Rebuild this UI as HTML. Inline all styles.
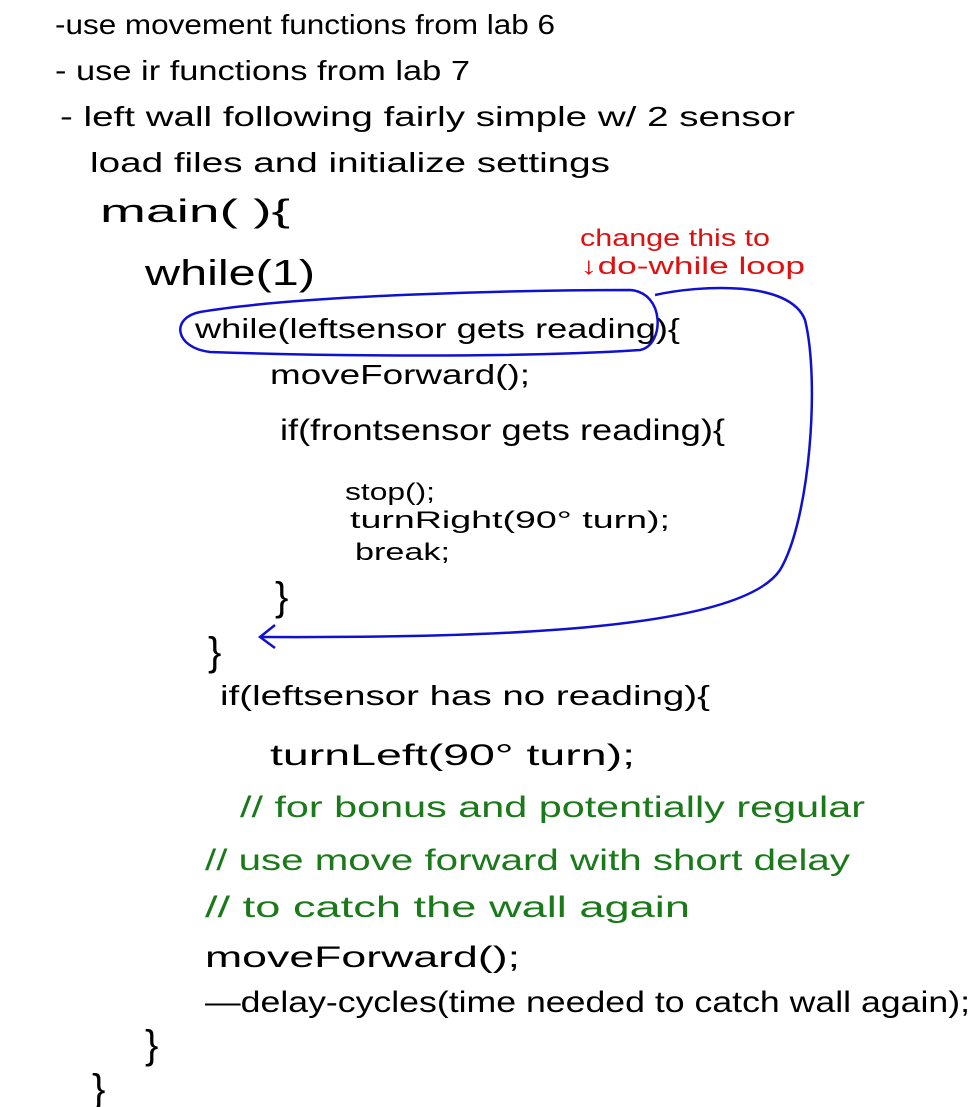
<!DOCTYPE html>
<html><head><meta charset="utf-8"><style>
html,body{margin:0;padding:0;background:#fff;width:976px;height:1107px;overflow:hidden}
svg{display:block}
text{font-family:"Liberation Sans",sans-serif;font-size:28px;fill:#000}
.g{fill:#1a7a1a}
.r{fill:#e01010;font-size:24px}
</style></head><body>
<svg width="976" height="1107" viewBox="0 0 976 1107" xmlns="http://www.w3.org/2000/svg">
<g lengthAdjust="spacingAndGlyphs">
<text x="55" y="34" textLength="500" lengthAdjust="spacingAndGlyphs">-use movement functions from lab 6</text>
<text x="55" y="80" textLength="415" lengthAdjust="spacingAndGlyphs">- use ir functions from lab 7</text>
<text x="60" y="126" textLength="735" lengthAdjust="spacingAndGlyphs">- left wall following fairly simple w/ 2 sensor</text>
<text x="90" y="172" textLength="520" lengthAdjust="spacingAndGlyphs">load files and initialize settings</text>
<text x="100" y="222" textLength="190" lengthAdjust="spacingAndGlyphs" style="font-size:32px">main( ){</text>
<text x="145" y="285" textLength="170" lengthAdjust="spacingAndGlyphs" style="font-size:36px">while(1)</text>
<text x="195" y="338" textLength="485" lengthAdjust="spacingAndGlyphs">while(leftsensor gets reading){</text>
<text x="270" y="384" textLength="260" lengthAdjust="spacingAndGlyphs">moveForward();</text>
<text x="280" y="440" textLength="445" lengthAdjust="spacingAndGlyphs" style="font-size:30px">if(frontsensor gets reading){</text>
<text x="345" y="500" textLength="90" lengthAdjust="spacingAndGlyphs" style="font-size:24px">stop();</text>
<text x="350" y="528" textLength="320" lengthAdjust="spacingAndGlyphs" style="font-size:24px">turnRight(90° turn);</text>
<text x="355" y="560" textLength="95" lengthAdjust="spacingAndGlyphs" style="font-size:24px">break;</text>
<text x="275" y="610" style="font-size:40px">}</text>
<text x="208" y="665" style="font-size:40px">}</text>
<text x="220" y="705" textLength="490" lengthAdjust="spacingAndGlyphs">if(leftsensor has no reading){</text>
<text x="270" y="765" textLength="365" lengthAdjust="spacingAndGlyphs" style="font-size:30px">turnLeft(90° turn);</text>
<text class="g" x="240" y="817" textLength="625" lengthAdjust="spacingAndGlyphs" style="font-size:30px">// for bonus and potentially regular</text>
<text class="g" x="205" y="870" textLength="645" lengthAdjust="spacingAndGlyphs" style="font-size:30px">// use move forward with short delay</text>
<text class="g" x="205" y="917" textLength="485" lengthAdjust="spacingAndGlyphs" style="font-size:30px">// to catch the wall again</text>
<text x="205" y="967" textLength="315" lengthAdjust="spacingAndGlyphs" style="font-size:30px">moveForward();</text>
<text x="205" y="1012" textLength="765" lengthAdjust="spacingAndGlyphs" style="font-size:30px">—delay-cycles(time needed to catch wall again);</text>
<text x="145" y="1058" style="font-size:40px">}</text>
<text x="92" y="1102" style="font-size:40px">}</text>
<text class="r" x="580" y="246" textLength="190" lengthAdjust="spacingAndGlyphs">change this to</text>
<text class="r" x="580" y="274" textLength="225" lengthAdjust="spacingAndGlyphs">↓do-while loop</text>
</g>
<path d="M200 312 C300 295 520 290 630 290 C665 292 665 345 640 350 C520 358 320 356 210 352 C175 348 170 318 200 312 Z" fill="none" stroke="#1010d0" stroke-width="2.5"/>
<path d="M655 295 C700 285 790 280 805 320 C820 380 810 520 780 570 C740 630 500 638 262 637" fill="none" stroke="#1010d0" stroke-width="2.5"/>
<path d="M275 625 L260 637 L275 648" fill="none" stroke="#1010d0" stroke-width="2.5"/>
</svg>
</body></html>
